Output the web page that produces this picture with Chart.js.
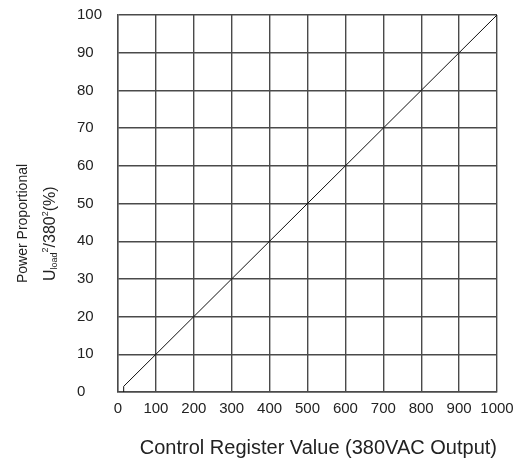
<!DOCTYPE html>
<html>
<head>
    <title>Power vs Control Register</title>
    <script src="https://cdn.jsdelivr.net/npm/chart.js"></script>
    <style>
        body {
            margin: 0;
            padding: 0;
            background: white;
        }

        .chart-box {
            width: 524px;
            height: 463px;
        }
    </style>
</head>
<body>
    <div class="chart-box">
        <canvas id="powerChart"></canvas>
    </div>
    <script>
        // values
        const registerValues = [15, 15, 1000];
        const powerValues = [0, 1.5, 100];
        const xTicks = [0, 100, 200, 300, 400, 500, 600, 700, 800, 900, 1000];
        const yTicks = [0, 10, 20, 30, 40, 50, 60, 70, 80, 90, 100];

        const xTitle = 'Control Register Value (380VAC Output)';
        const yTitleLine1 = 'Power Proportional';
        // second line: U_load^2 / 380^2 (%)
        const yTitleParts = [
            { text: 'U' },
            { text: 'load', sub: true },
            { text: '2', sup: true },
            { text: '/380' },
            { text: '2', sup: true },
            { text: '(%)' }
        ];

        const FONT = '"Liberation Sans", Arial, sans-serif';
        const INK = '#222';
        const GRID = '#4a4a4a';

        const points = registerValues.map((x, i) => ({ x: x, y: powerValues[i] }));

        // y title with sub/superscripts, drawn rotated
        const yTitlePlugin = {
            id: 'yTitle',
            afterDraw(chart) {
                const ctx = chart.ctx;
                ctx.save();
                ctx.fillStyle = INK;
                ctx.textAlign = 'left';
                ctx.textBaseline = 'alphabetic';

                ctx.save();
                ctx.translate(27, 283);
                ctx.rotate(-Math.PI / 2);
                ctx.font = '14px ' + FONT;
                ctx.fillText(yTitleLine1, 0, 0);
                ctx.restore();

                ctx.save();
                ctx.translate(55, 281);
                ctx.rotate(-Math.PI / 2);
                let pos = 0;
                yTitleParts.forEach(p => {
                    let size = 16, shift = 0;
                    if (p.sub) { size = 9; shift = 2; }
                    if (p.sup) { size = 9; shift = -7; }
                    ctx.font = size + 'px ' + FONT;
                    ctx.fillText(p.text, pos, shift);
                    pos += ctx.measureText(p.text).width;
                });
                ctx.restore();

                ctx.restore();
            }
        };

        new Chart(document.getElementById('powerChart'), {
            type: 'scatter',
            data: {
                datasets: [{
                    data: points,
                    showLine: true,
                    borderColor: '#111',
                    borderWidth: 1,
                    pointRadius: 0,
                    tension: 0
                }]
            },
            options: {
                responsive: true,
                maintainAspectRatio: false,
                animation: false,
                layout: {
                    padding: { left: 77, right: 27, top: 15, bottom: 0 }
                },
                plugins: {
                    legend: { display: false },
                    tooltip: { enabled: false }
                },
                scales: {
                    x: {
                        type: 'linear',
                        min: xTicks[0],
                        max: xTicks[xTicks.length - 1],
                        afterBuildTicks: s => { s.ticks = xTicks.map(v => ({ value: v })); },
                        afterFit: s => { s.height = 71; },
                        ticks: {
                            padding: 8,
                            maxRotation: 0,
                            autoSkip: false,
                            color: INK,
                            font: { family: FONT, size: 15 },
                            callback: v => String(v)
                        },
                        grid: { color: GRID, lineWidth: 1.4, drawTicks: false },
                        border: { color: GRID, width: 1.4 },
                        title: {
                            display: true,
                            text: xTitle,
                            align: 'end',
                            color: INK,
                            font: { family: FONT, size: 20 },
                            padding: { top: 0, bottom: 3 }
                        }
                    },
                    y: {
                        min: yTicks[0],
                        max: yTicks[yTicks.length - 1],
                        afterBuildTicks: s => { s.ticks = yTicks.map(v => ({ value: v })); },
                        afterFit: s => { s.width = 41; },
                        ticks: {
                            crossAlign: 'far',
                            color: INK,
                            font: { family: FONT, size: 15 },
                            callback: v => String(v)
                        },
                        grid: { color: GRID, lineWidth: 1.4, drawTicks: false },
                        border: { color: GRID, width: 1.4 }
                    }
                }
            },
            plugins: [yTitlePlugin]
        });
    </script>
</body>
</html>
